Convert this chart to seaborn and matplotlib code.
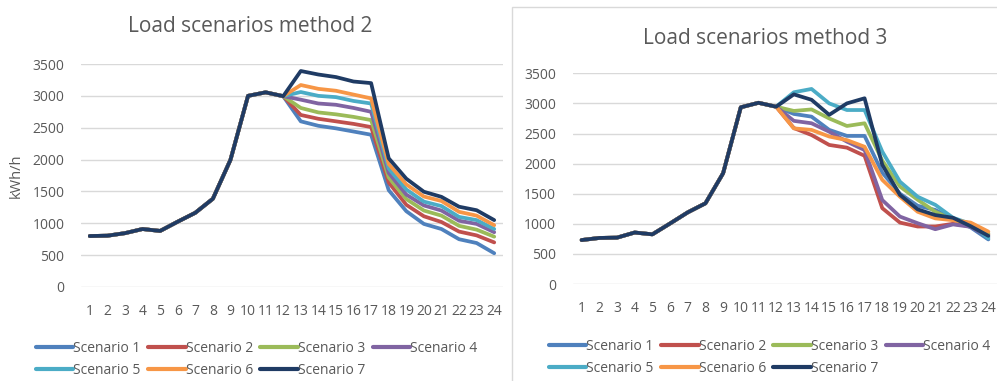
import numpy as np
import pandas as pd
import matplotlib
matplotlib.use("Agg")
import matplotlib.pyplot as plt
from matplotlib.patches import Rectangle
import seaborn as sns

hours = list(range(1, 25))
scenarios = ["Scenario 1", "Scenario 2", "Scenario 3", "Scenario 4",
             "Scenario 5", "Scenario 6", "Scenario 7"]
colors = ["#4F81BD", "#C0504D", "#9BBB59", "#8064A2", "#4BACC6", "#F79646", "#1F3B64"]

# Method 2
m2_common = [800, 805, 845, 910, 880, 1025, 1165, 1385, 1995, 3000, 3055, 2995]
m2_s1 = m2_common + [2600, 2530, 2490, 2440, 2390, 1520, 1190, 990, 910, 750, 690, 530]
m2_s2 = m2_common + [2700, 2640, 2600, 2560, 2510, 1640, 1290, 1110, 1020, 870, 810, 700]
m2_s3 = m2_common + [2810, 2740, 2710, 2670, 2620, 1720, 1380, 1200, 1120, 960, 900, 790]
m2_s4 = m2_common + [2940, 2880, 2860, 2810, 2750, 1790, 1450, 1280, 1200, 1040, 990, 860]
m2_s5 = m2_common + [3060, 3000, 2980, 2920, 2880, 1860, 1530, 1340, 1270, 1100, 1050, 910]
m2_s6 = m2_common + [3170, 3110, 3080, 3020, 2960, 1930, 1610, 1420, 1350, 1180, 1120, 970]
m2_s7 = m2_common + [3390, 3335, 3295, 3225, 3200, 2020, 1700, 1495, 1415, 1260, 1205, 1050]

# Method 3
m3_common = [730, 765, 770, 855, 825, 1005, 1190, 1340, 1840, 2935, 3010, 2945]
m3_s1 = m3_common + [2825, 2780, 2560, 2460, 2460, 1850, 1500, 1300, 1230, 1080, 940, 740]
m3_s2 = m3_common + [2590, 2475, 2310, 2265, 2130, 1260, 1020, 955, 955, 1000, 960, 820]
m3_s3 = m3_common + [2875, 2900, 2750, 2625, 2670, 2050, 1620, 1400, 1200, 1070, 990, 840]
m3_s4 = m3_common + [2710, 2670, 2530, 2365, 2225, 1395, 1120, 1010, 910, 990, 950, 780]
m3_s5 = m3_common + [3185, 3240, 3000, 2890, 2890, 2200, 1700, 1450, 1315, 1100, 1000, 760]
m3_s6 = m3_common + [2585, 2560, 2450, 2390, 2280, 1730, 1450, 1200, 1090, 1060, 1020, 870]
m3_s7 = m3_common + [3150, 3060, 2810, 3000, 3085, 1980, 1480, 1240, 1145, 1100, 960, 800]

def long_df(series):
    rows = []
    for name, vals in zip(scenarios, series):
        for h, v in zip(hours, vals):
            rows.append((h, v, name))
    return pd.DataFrame(rows, columns=["hour", "value", "scenario"])

df2 = long_df([m2_s1, m2_s2, m2_s3, m2_s4, m2_s5, m2_s6, m2_s7])
df3 = long_df([m3_s1, m3_s2, m3_s3, m3_s4, m3_s5, m3_s6, m3_s7])

sns.set_theme(style="white")
plt.rcParams['font.family'] = ['Open Sans', 'DejaVu Sans']

W, H = 997, 381
fig = plt.figure(figsize=(W / 100, H / 100), dpi=100)

def px_axes(x0, y_top, x1, y_bot):
    return fig.add_axes([x0 / W, 1 - y_bot / H, (x1 - x0) / W, (y_bot - y_top) / H])

txt = "#595959"
grid = "#D9D9D9"

# right panel border
fig.patches.append(Rectangle((512 / W, -10 / H), (1100 - 512) / W, (381 - 7 + 10) / H,
                             transform=fig.transFigure, fill=False,
                             edgecolor="#D9D9D9", linewidth=1.0, zorder=0))

def draw(ax, df, ylabel, leg_anchor):
    sns.lineplot(data=df, x="hour", y="value", hue="scenario",
                 hue_order=scenarios, palette=colors, linewidth=2.7,
                 ax=ax, legend=True)
    ax.set_xlim(0.5, 24.5)
    ax.set_ylim(0, 3500)
    ax.set_yticks(np.arange(0, 3501, 500))
    ax.set_xticks(hours)
    ax.set_xticklabels([str(h) for h in hours])
    ax.yaxis.grid(True, color=grid, linewidth=1.0)
    ax.set_axisbelow(True)
    for s in ax.spines.values():
        s.set_visible(False)
    ax.tick_params(axis="both", length=0, labelsize=10, colors=txt)
    ax.tick_params(axis="y", pad=12)
    ax.tick_params(axis="x", pad=12)
    ax.set_xlabel("")
    ax.set_ylabel(ylabel, fontsize=10.5, color=txt, labelpad=6)
    handles, labels = ax.get_legend_handles_labels()
    order = [0, 4, 1, 5, 2, 6, 3]
    ax.legend([handles[i] for i in order], [labels[i] for i in order],
              ncol=4, loc="upper left", bbox_to_anchor=leg_anchor, frameon=False,
              fontsize=10, labelcolor=txt, handlelength=2.7, handletextpad=0.0,
              columnspacing=0.55, labelspacing=0.55, borderaxespad=0)
    for lh in ax.get_legend().get_lines():
        lh.set_linewidth(3.0)

ax2 = px_axes(81, 64, 503, 287)
draw(ax2, df2, "kWh/h", ((30 - 81) / 422, (287 - 335) / 223))
ax2.text((250 - 81) / 422, (287 - 27) / 223, "Load scenarios method 2",
         transform=ax2.transAxes, ha="center", va="center", fontsize=15, color=txt)

ax3 = px_axes(572.8, 73.3, 997.2, 284)
draw(ax3, df3, "", ((543 - 572.8) / 424.4, (284 - 333) / 210.7))
ax3.text((765 - 572.8) / 424.4, (284 - 38) / 210.7, "Load scenarios method 3",
         transform=ax3.transAxes, ha="center", va="center", fontsize=15, color=txt)

fig.savefig("out.png", dpi=100, facecolor="white")
